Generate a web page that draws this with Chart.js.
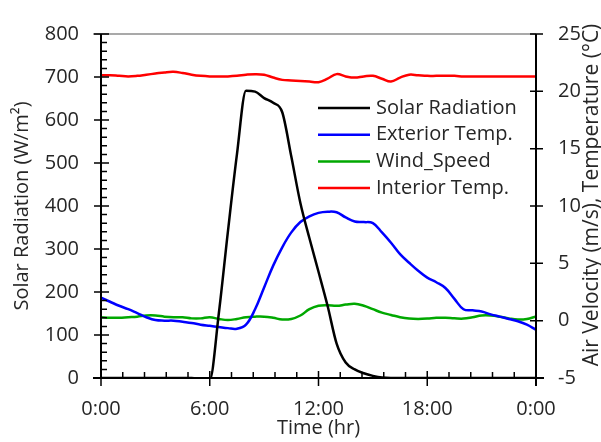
<!DOCTYPE html>
<html>
<head>
<meta charset="utf-8">
<script src="https://cdn.jsdelivr.net/npm/chart.js@4.4.1/dist/chart.umd.min.js"></script>
<style>
  html, body { margin: 0; padding: 0; background: #fff; }
  #wrap { width: 601px; height: 442px; }
</style>
</head>
<body>
<div id="wrap"><canvas id="c" width="601" height="442"></canvas></div>
<script>
// Half-hourly readings over one day (hour of day)
const hours = [0, 0.5, 1, 1.5, 2, 2.5, 3, 3.5, 4, 4.5, 5, 5.5, 6, 6.5, 7, 7.5, 8, 8.5, 9, 9.5,
  10, 10.5, 11, 11.5, 12, 12.5, 13, 13.5, 14, 14.5, 15, 15.5, 16, 16.5, 17, 17.5, 18, 18.5, 19, 19.5,
  20, 20.5, 21, 21.5, 22, 22.5, 23, 23.5, 24];

// Solar radiation, W/m² (left axis)
const solarRadiation = [0, 0, 0, 0, 0, 0, 0, 0, 0, 0, 0, -2, -4, 150, 340, 520, 668, 666, 651, 640,
  618, 515, 407, 325, 247, 168, 80, 36, 20, 11, 5, 1, 0, 0, 0, 0, 0, 0, 0, 0,
  0, 0, 0, 0, 0, 0, 0, 0, 0];

// Exterior temperature, °C (right axis)
const exteriorTemp = [2.0, 1.65, 1.3, 1.0, 0.65, 0.3, 0.05, 0.0, 0.0, -0.1, -0.2, -0.35, -0.45, -0.55, -0.65, -0.7, -0.35, 1.0, 2.9, 4.8,
  6.4, 7.7, 8.6, 9.1, 9.4, 9.5, 9.45, 9.0, 8.65, 8.6, 8.5, 7.7, 6.8, 5.8, 5.05, 4.35, 3.75, 3.35, 2.85, 1.9,
  1.0, 0.9, 0.8, 0.55, 0.35, 0.15, -0.05, -0.35, -0.8];

// Wind speed, m/s (right axis)
const windSpeed = [0.3, 0.25, 0.25, 0.3, 0.35, 0.45, 0.45, 0.35, 0.3, 0.3, 0.2, 0.2, 0.3, 0.15, 0.05, 0.15, 0.3, 0.35, 0.35, 0.25,
  0.1, 0.15, 0.45, 1.0, 1.3, 1.35, 1.3, 1.4, 1.48, 1.3, 1.0, 0.7, 0.5, 0.3, 0.18, 0.15, 0.18, 0.25, 0.25, 0.2,
  0.18, 0.3, 0.45, 0.45, 0.35, 0.2, 0.1, 0.15, 0.37];

// Interior temperature, °C (right axis)
const interiorTemp = [21.4, 21.4, 21.35, 21.3, 21.35, 21.45, 21.55, 21.65, 21.7, 21.6, 21.45, 21.35, 21.3, 21.3, 21.3, 21.35, 21.45, 21.5, 21.45, 21.2,
  21.0, 20.95, 20.9, 20.85, 20.8, 21.1, 21.5, 21.3, 21.2, 21.3, 21.35, 21.1, 20.85, 21.2, 21.45, 21.4, 21.35, 21.35, 21.35, 21.35,
  21.3, 21.3, 21.3, 21.3, 21.3, 21.3, 21.3, 21.3, 21.3];

const seriesNames = ['Solar Radiation', 'Exterior Temp.', 'Wind_Speed', 'Interior Temp.'];
const timeTicks = [0, 6, 12, 18, 24];
const timeLabels = ['0:00', '6:00', '12:00', '18:00', '0:00'];
const leftTicks = [0, 100, 200, 300, 400, 500, 600, 700, 800];
const rightTicks = [-5, 0, 5, 10, 15, 20, 25];
const rightTitle = 'Air Velocity (m/s), Temperature (°C)';

const FONT = "'Open Sans', 'Noto Sans', sans-serif";
const TEXT = '#262626';

const toPoints = vals => vals.map((v, i) => ({ x: hours[i], y: v }));

// Axis lines with crossing major ticks and inward minor ticks
const framePlugin = {
  id: 'frame',
  afterDatasetsDraw(chart) {
    const { ctx, chartArea: a, scales } = chart;
    const xs = scales.x, yl = scales.yLeft, yr = scales.yRight;
    ctx.save();
    ctx.lineCap = 'butt';
    // top border
    ctx.strokeStyle = '#555';
    ctx.lineWidth = 1.2;
    ctx.beginPath(); ctx.moveTo(a.left - 8, a.top); ctx.lineTo(a.right, a.top); ctx.stroke();

    ctx.strokeStyle = '#000';
    ctx.lineWidth = 2;
    ctx.beginPath();
    ctx.moveTo(a.left, a.top); ctx.lineTo(a.left, a.bottom);
    ctx.moveTo(a.right, a.top); ctx.lineTo(a.right, a.bottom + 8);
    ctx.moveTo(a.left - 8, a.bottom); ctx.lineTo(a.right + 8, a.bottom);
    ctx.stroke();

    ctx.lineWidth = 1.5;
    ctx.beginPath();
    // left axis
    for (let v = 0; v <= 800; v += 20) {
      const y = yl.getPixelForValue(v);
      if (v % 100 === 0) { ctx.moveTo(a.left - 7, y); ctx.lineTo(a.left + 8, y); }
      else { ctx.moveTo(a.left, y); ctx.lineTo(a.left + 6, y); }
    }
    // right axis
    rightTicks.forEach(v => {
      const y = yr.getPixelForValue(v);
      ctx.moveTo(a.right - 6, y); ctx.lineTo(a.right + 7, y);
    });
    // time axis
    for (let k = 0; k <= 20; k++) {
      const x = xs.getPixelForValue(k * 1.2);
      if (k % 5 === 0) { ctx.moveTo(x, a.bottom - 7); ctx.lineTo(x, a.bottom + 8); }
      else { ctx.moveTo(x, a.bottom - 6); ctx.lineTo(x, a.bottom); }
    }
    ctx.stroke();

    // right-hand axis title, reading bottom to top
    ctx.translate(chart.width - 9, (a.top + a.bottom) / 2 - 11);
    ctx.rotate(-Math.PI / 2);
    ctx.font = `21px ${FONT}`;
    ctx.fillStyle = TEXT;
    ctx.textAlign = 'center';
    ctx.textBaseline = 'middle';
    ctx.fillText(rightTitle, 0, 0);
    ctx.restore();
  }
};

// Legend inside the plot area
const legendPlugin = {
  id: 'innerLegend',
  afterDraw(chart) {
    const { ctx, chartArea: a } = chart;
    const x0 = a.left + 217, x1 = a.left + 269, tx = a.left + 275;
    const y0 = a.top + 74, dy = 26.7;
    ctx.save();
    ctx.font = `20px ${FONT}`;
    ctx.textBaseline = 'middle';
    ctx.textAlign = 'left';
    chart.data.datasets.forEach((ds, i) => {
      const y = y0 + i * dy;
      ctx.strokeStyle = ds.borderColor;
      ctx.lineWidth = 2.5;
      ctx.beginPath(); ctx.moveTo(x0, y); ctx.lineTo(x1, y); ctx.stroke();
      ctx.fillStyle = TEXT;
      ctx.fillText(ds.label, tx, y);
    });
    ctx.restore();
  }
};

new Chart(document.getElementById('c'), {
  type: 'line',
  data: {
    datasets: [
      { label: seriesNames[0], data: toPoints(solarRadiation), yAxisID: 'yLeft', borderColor: '#000000', cubicInterpolationMode: 'monotone' },
      { label: seriesNames[1], data: toPoints(exteriorTemp), yAxisID: 'yRight', borderColor: '#0000FF', tension: 0.4 },
      { label: seriesNames[2], data: toPoints(windSpeed), yAxisID: 'yRight', borderColor: '#00A800', tension: 0.4 },
      { label: seriesNames[3], data: toPoints(interiorTemp), yAxisID: 'yRight', borderColor: '#FF0000', tension: 0.4 }
    ]
  },
  options: {
    responsive: false,
    animation: false,
    devicePixelRatio: 1,
    layout: { padding: { top: 15, left: 0, right: 0, bottom: 0 } },
    elements: { point: { radius: 0 }, line: { borderWidth: 2.5 } },
    plugins: { legend: { display: false }, tooltip: { enabled: false } },
    scales: {
      x: {
        type: 'linear', min: 0, max: 24,
        afterBuildTicks: s => { s.ticks = timeTicks.map(v => ({ value: v })); },
        afterFit: s => { s.height = 64; },
        grid: { display: false, drawTicks: false },
        border: { display: false },
        ticks: {
          padding: 19, color: TEXT, font: { family: FONT, size: 20 }, maxRotation: 0,
          callback: (v) => timeLabels[timeTicks.indexOf(v)]
        },
        title: { display: true, text: 'Time (hr)', color: TEXT, font: { family: FONT, size: 20 }, padding: { top: 0, bottom: 2 } }
      },
      yLeft: {
        position: 'left', min: 0, max: 800,
        afterBuildTicks: s => { s.ticks = leftTicks.map(v => ({ value: v })); },
        afterFit: s => { s.width = 101; },
        grid: { display: false, drawTicks: false },
        border: { display: false },
        ticks: { padding: 22, color: TEXT, font: { family: FONT, size: 20 } },
        title: { display: true, text: 'Solar Radiation (W/m²)', color: TEXT, font: { family: FONT, size: 20 }, padding: { top: 10, bottom: 0 } }
      },
      yRight: {
        position: 'right', min: -5, max: 25,
        afterBuildTicks: s => { s.ticks = rightTicks.map(v => ({ value: v })); },
        afterFit: s => { s.width = 65; },
        grid: { display: false, drawTicks: false },
        border: { display: false },
        ticks: { padding: 22, color: TEXT, font: { family: FONT, size: 20 } },
        title: { display: false }
      }
    }
  },
  plugins: [framePlugin, legendPlugin]
});
</script>
</body>
</html>
